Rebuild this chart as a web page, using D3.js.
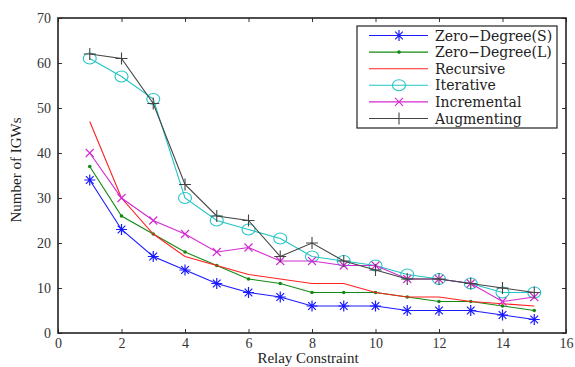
<!DOCTYPE html>
<html><head><meta charset="utf-8">
<script src="https://cdn.jsdelivr.net/npm/d3@7"></script>
<style>body{margin:0;background:#fff}svg{display:block}</style>
</head><body>
<svg id="c" width="575" height="367"></svg>
<script>
const xValues = [1,2,3,4,5,6,7,8,9,10,11,12,13,14,15];
const zeroDegreeS = [34,23,17,14,11,9,8,6,6,6,5,5,5,4,3];
const zeroDegreeL = [37,26,22,18,15,12,11,9,9,9,8,7,7,6,5];
const recursive   = [47,30,22,17,15,13,12,11,11,9,8,8,7,6.5,6];
const iterative   = [61,57,52,30,25,23,21,17,16,15,13,12,11,9,9];
const incremental = [40,30,25,22,18,19,16,16,15,15,12,12,11,7,8];
const augmenting  = [62,61,51,33,26,25,17,20,16,14,12,12,11,10,9];
const seriesNames = ["Zero\u2212Degree(S)","Zero\u2212Degree(L)","Recursive","Iterative","Incremental","Augmenting"];
const xTicks = [0,2,4,6,8,10,12,14,16];
const yTicks = [0,10,20,30,40,50,60,70];

const series = [
  {name:seriesNames[0], values:zeroDegreeS, color:"#1a1aff", marker:"star"},
  {name:seriesNames[1], values:zeroDegreeL, color:"#138a13", marker:"dot"},
  {name:seriesNames[2], values:recursive,   color:"#ff2020", marker:"none"},
  {name:seriesNames[3], values:iterative,   color:"#22c4c4", marker:"circle"},
  {name:seriesNames[4], values:incremental, color:"#d22ad2", marker:"x"},
  {name:seriesNames[5], values:augmenting,  color:"#444444", marker:"plus"}
];

const svg = d3.select("#c");
const L=58, R=566, T=18, B=333;
const x = d3.scaleLinear().domain([0,16]).range([L,R]);
const y = d3.scaleLinear().domain([0,70]).range([B,T]);
const font = "'Liberation Serif','DejaVu Serif',serif";
const font2 = "'DejaVu Serif','Liberation Serif',serif";

// axes with inward ticks
const gx = svg.append("g").attr("transform",`translate(0,${B})`)
  .call(d3.axisBottom(x).tickValues(xTicks).tickSizeInner(-4).tickSizeOuter(0).tickPadding(5));
const gxt = svg.append("g").attr("transform",`translate(0,${T})`)
  .call(d3.axisTop(x).tickValues(xTicks).tickSizeInner(-4).tickSizeOuter(0).tickFormat(""));
const gy = svg.append("g").attr("transform",`translate(${L},0)`)
  .call(d3.axisLeft(y).tickValues(yTicks).tickSizeInner(-4).tickSizeOuter(0).tickPadding(7));
const gyr = svg.append("g").attr("transform",`translate(${R},0)`)
  .call(d3.axisRight(y).tickValues(yTicks).tickSizeInner(-4).tickSizeOuter(0).tickFormat(""));
[gx,gxt,gy,gyr].forEach(g=>{
  g.select(".domain").remove();
  g.selectAll(".tick line").attr("stroke","#333").attr("stroke-width",1);
  g.selectAll("text").attr("font-family",font).attr("font-size",14).attr("fill","#333");
});
svg.append("rect").attr("x",L).attr("y",T).attr("width",R-L).attr("height",B-T)
  .attr("fill","none").attr("stroke","#222").attr("stroke-width",1.6);

// axis labels
svg.append("text").attr("x",(L+R)/2 - 4).attr("y",362.5).attr("text-anchor","middle")
  .attr("font-family",font).attr("font-size",15).attr("fill","#222").text("Relay Constraint");
svg.append("text").attr("transform",`translate(21,170) rotate(-90)`).attr("text-anchor","middle")
  .attr("font-family",font).attr("font-size",15).attr("fill","#222").text("Number of IGWs");

function drawMarker(g, type, cx, cy, color){
  const s=5.5;
  if(type==="star"){
    g.append("path").attr("d",`M${cx-s},${cy}L${cx+s},${cy}M${cx},${cy-s}L${cx},${cy+s}M${cx-s*0.7},${cy-s*0.7}L${cx+s*0.7},${cy+s*0.7}M${cx-s*0.7},${cy+s*0.7}L${cx+s*0.7},${cy-s*0.7}`)
      .attr("stroke",color).attr("stroke-width",1.2).attr("fill","none");
  } else if(type==="dot"){
    g.append("circle").attr("cx",cx).attr("cy",cy).attr("r",1.8).attr("fill",color);
  } else if(type==="circle"){
    g.append("ellipse").attr("cx",cx).attr("cy",cy).attr("rx",6.5).attr("ry",5.5)
      .attr("stroke",color).attr("stroke-width",1.1).attr("fill","none");
  } else if(type==="x"){
    const t=4;
    g.append("path").attr("d",`M${cx-t},${cy-t}L${cx+t},${cy+t}M${cx-t},${cy+t}L${cx+t},${cy-t}`)
      .attr("stroke",color).attr("stroke-width",1.1).attr("fill","none");
  } else if(type==="plus"){
    const t=6;
    g.append("path").attr("d",`M${cx-t},${cy}L${cx+t},${cy}M${cx},${cy-t}L${cx},${cy+t}`)
      .attr("stroke",color).attr("stroke-width",1.1).attr("fill","none");
  }
}

const line = d3.line().x((d,i)=>x(xValues[i])).y(d=>y(d));
series.forEach(s=>{
  const g = svg.append("g");
  g.append("path").datum(s.values).attr("d",line).attr("fill","none")
    .attr("stroke",s.color).attr("stroke-width",1.1);
  s.values.forEach((v,i)=>drawMarker(g,s.marker,x(xValues[i]),y(v),s.color));
});

// legend
const lg = svg.append("g");
const lx=357, ly=26, lw=200, lh=102;
lg.append("rect").attr("x",lx).attr("y",ly).attr("width",lw).attr("height",lh)
  .attr("fill","#fff").attr("stroke","#222").attr("stroke-width",1.2);
series.forEach((s,i)=>{
  const yy = 35.5+i*16.6;
  lg.append("line").attr("x1",369).attr("x2",428).attr("y1",yy).attr("y2",yy)
    .attr("stroke",s.color).attr("stroke-width",1.1);
  drawMarker(lg,s.marker,399,yy,s.color);
  lg.append("text").attr("x",435).attr("y",yy+5).attr("font-family",font2)
    .attr("font-size",14).attr("fill","#222").text(s.name);
});
</script>
</body></html>
